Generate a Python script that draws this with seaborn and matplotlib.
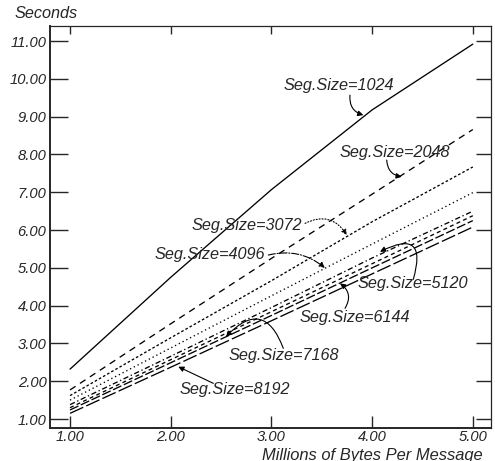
import matplotlib
matplotlib.use("Agg")
import matplotlib.pyplot as plt
import seaborn as sns
import numpy as np
import pandas as pd

# ---- data ----
mbytes = [1.0, 2.0, 3.0, 4.0, 5.0]
seg_sizes = ["1024", "2048", "3072", "4096", "5120", "6144", "7168", "8192"]
sec_1024 = [2.32, 4.75, 7.07, 9.18, 10.92]
sec_2048 = [1.77, 3.52, 5.25, 6.95, 8.66]
sec_3072 = [1.62, 3.15, 4.66, 6.22, 7.67]
sec_4096 = [1.50, 2.88, 4.26, 5.63, 6.99]
sec_5120 = [1.38, 2.66, 3.95, 5.26, 6.50]
sec_6144 = [1.30, 2.57, 3.84, 5.11, 6.38]
sec_7168 = [1.24, 2.49, 3.74, 5.00, 6.25]
sec_8192 = [1.15, 2.37, 3.60, 4.84, 6.08]
xticks = [1.0, 2.0, 3.0, 4.0, 5.0]
yticks = [1.0, 2.0, 3.0, 4.0, 5.0, 6.0, 7.0, 8.0, 9.0, 10.0, 11.0]

series = [sec_1024, sec_2048, sec_3072, sec_4096, sec_5120, sec_6144, sec_7168, sec_8192]
rows = []
for s, vals in zip(seg_sizes, series):
    for x, v in zip(mbytes, vals):
        rows.append({"mb": x, "sec": v, "seg": s})
df = pd.DataFrame(rows)

sns.set_style("ticks")
plt.rcParams["font.family"] = ["Liberation Sans", "DejaVu Sans"]
plt.rcParams["font.style"] = "italic"

fig = plt.figure(figsize=(4.95, 4.61), dpi=100)
ax = fig.add_axes([0.101, 0.0709, 0.890, 0.8727])

dashes = {
    "1024": "",
    "2048": (5, 4),
    "3072": (2, 1.6),
    "4096": (1, 2.2),
    "5120": (4, 2, 1, 2),
    "6144": (3, 2.5),
    "7168": (7, 2),
    "8192": (11, 2.5),
}
sns.lineplot(data=df, x="mb", y="sec", hue="seg", style="seg",
             palette=["black"] * len(seg_sizes), dashes=dashes,
             legend=False, linewidth=0.95, ax=ax)

ax.set_xlim(0.801, 5.176)
ax.set_ylim(0.754, 11.40)
ax.set_xticks(xticks)
ax.set_yticks(yticks)
ax.set_xticklabels([f"{t:.2f}" for t in xticks], fontsize=10.6, style="italic")
ax.set_yticklabels([f"{t:.2f}" for t in yticks], fontsize=10.6, style="italic")
ax.set_xlabel("")
ax.set_ylabel("")
ax.tick_params(axis="x", direction="in", length=9, width=1, top=True, bottom=True, pad=1.5)
ax.tick_params(axis="y", direction="in", length=13, width=1, left=True, right=True, pad=2.5)
for t in ax.xaxis.get_major_ticks():
    t.tick2line.set_markersize(6)
for t in ax.yaxis.get_major_ticks():
    t.tick2line.set_markersize(11)
for sp in ["left", "bottom"]:
    ax.spines[sp].set_linewidth(1.4)
for sp in ["top", "right"]:
    ax.spines[sp].set_linewidth(0.9)
    ax.spines[sp].set_visible(True)

fig.text(15 / 495, 1 - 14 / 461, "Seconds", fontsize=11.7, style="italic",
         ha="left", va="center")
fig.text(483 / 495, 1 - 455 / 461, "Millions of Bytes Per Message", fontsize=11.9,
         style="italic", ha="right", va="center")

# ---- annotations ----
labels = [
    ("1024", (3.118, 9.836), (3.780, 9.571), (3.913, 9.042), 0.4, "-"),
    ("2048", (3.674, 8.045), (4.145, 7.852), (4.294, 7.410), 0.4, "-"),
    ("3072", (2.209, 6.132), (3.334, 6.177), (3.748, 5.868), -0.45, ":"),
    ("4096", (1.844, 5.357), (2.969, 5.339), (3.530, 5.000), -0.25, "-."),
    ("5120", (3.857, 4.590), (4.409, 4.696), (4.078, 5.426), 1.15, "-"),
    ("6144", (3.284, 3.690), (3.731, 3.929), (3.681, 4.590), 0.45, "-"),
    ("7168", (2.572, 2.693), (3.118, 2.870), (2.549, 3.177), 0.8, "-"),
    ("8192", (2.085, 1.794), (2.423, 1.944), (2.075, 2.384), 0.0, "-"),
]
for name, txt, start, tip, rad, ls in labels:
    ax.text(txt[0], txt[1], f"Seg.Size={name}", fontsize=11.7, style="italic",
            ha="left", va="center")
    ax.annotate("", xy=tip, xytext=start,
                arrowprops=dict(arrowstyle="-|>", color="black", lw=0.8,
                                linestyle=ls, mutation_scale=8,
                                shrinkA=0, shrinkB=0,
                                connectionstyle=f"arc3,rad={rad}"))

fig.savefig("out.png", dpi=100)
